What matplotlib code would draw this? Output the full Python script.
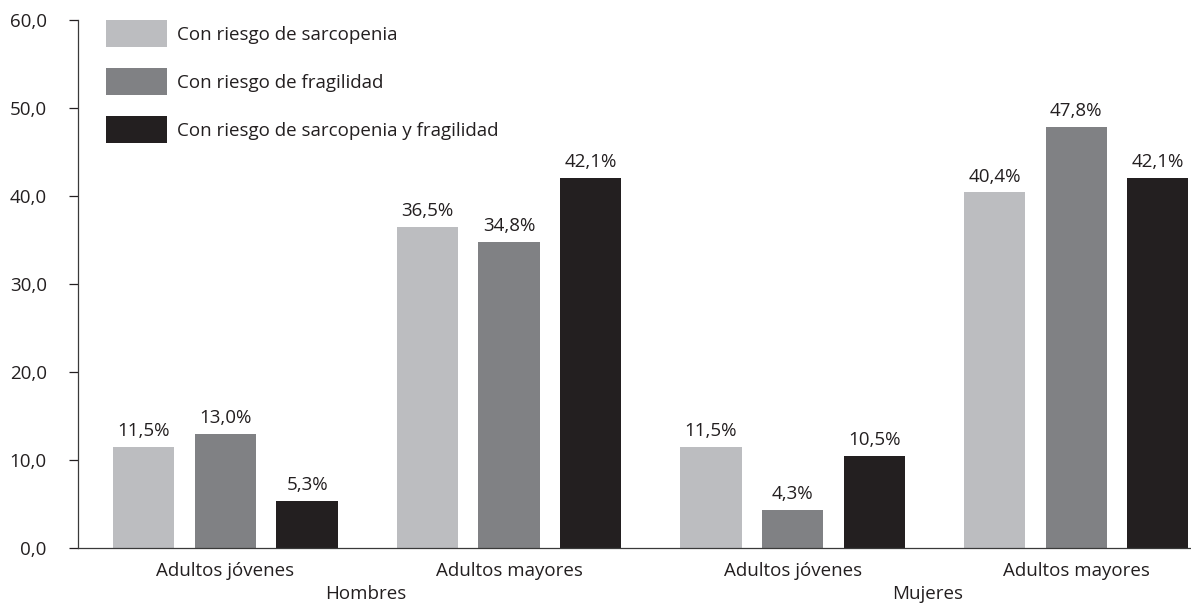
import numpy as np
import matplotlib
matplotlib.use("Agg")
import matplotlib.pyplot as plt
from matplotlib.ticker import FuncFormatter

plt.rcParams['font.family'] = ['Open Sans', 'DejaVu Sans']

grupos = ["Adultos jóvenes", "Adultos mayores", "Adultos jóvenes", "Adultos mayores"]
sexos = ["Hombres", "Mujeres"]
series = ["Con riesgo de sarcopenia", "Con riesgo de fragilidad",
          "Con riesgo de sarcopenia y fragilidad"]
sarcopenia = [11.5, 36.5, 11.5, 40.4]
fragilidad = [13.0, 34.8, 4.3, 47.8]
ambos = [5.3, 42.1, 10.5, 42.1]
colores = ["#BCBDC0", "#808184", "#231F20"]
texto = "#231F20"
fs = 13.5

fig = plt.figure(figsize=(11.91, 6.06), dpi=100)
ax = fig.add_axes([78 / 1191, 1 - 548 / 606, 1 - 78 / 1191, (548 - 20) / 606])

x = np.arange(len(grupos))
paso = 0.288
ancho = 0.216
for i, (vals, nombre, c) in enumerate(zip([sarcopenia, fragilidad, ambos], series, colores)):
    barras = ax.bar(x + (i - 1) * paso, vals, width=ancho, color=c, label=nombre)
    for b, v in zip(barras, vals):
        ax.annotate(f"{v:.1f}%".replace(".", ","),
                    (b.get_x() + b.get_width() / 2, v),
                    xytext=(0, 5), textcoords="offset points",
                    ha="center", va="bottom", fontsize=fs, color=texto)

ax.set_xlim(-0.52, 3.405)
ax.set_ylim(0, 60)
ax.set_yticks(range(0, 61, 10))
ax.yaxis.set_major_formatter(FuncFormatter(lambda v, p: f"{v:.1f}".replace(".", ",")))
ax.set_xticks(x)
ax.set_xticklabels(grupos)
ax.tick_params(axis="x", length=0, pad=10, labelsize=fs, colors=texto)
ax.tick_params(axis="y", length=6.5, width=0.9, pad=16, labelsize=fs,
               colors=texto, direction="out")

for s in ["top", "right"]:
    ax.spines[s].set_visible(False)
for s in ["left", "bottom"]:
    ax.spines[s].set_linewidth(0.9)
    ax.spines[s].set_color("#3a3a3a")

# etiquetas de sexo bajo cada par de grupos
for k, (sexo, dx) in enumerate(zip(sexos, [-1, -5])):
    ax.annotate(sexo, (x[2 * k:2 * k + 2].mean(), 0),
                xycoords=ax.get_xaxis_transform(),
                xytext=(dx, -37), textcoords="offset points",
                ha="center", va="baseline", fontsize=fs, color=texto,
                annotation_clip=False)

ax.legend(loc="upper left", bbox_to_anchor=(106 / 1191, 1 - 20 / 606),
          bbox_transform=fig.transFigure, frameon=False, borderpad=0,
          borderaxespad=0, fontsize=fs, handlelength=3.25, handleheight=1.84,
          labelspacing=1.12, handletextpad=0.53, labelcolor=texto)

fig.savefig("out.png", dpi=100)
